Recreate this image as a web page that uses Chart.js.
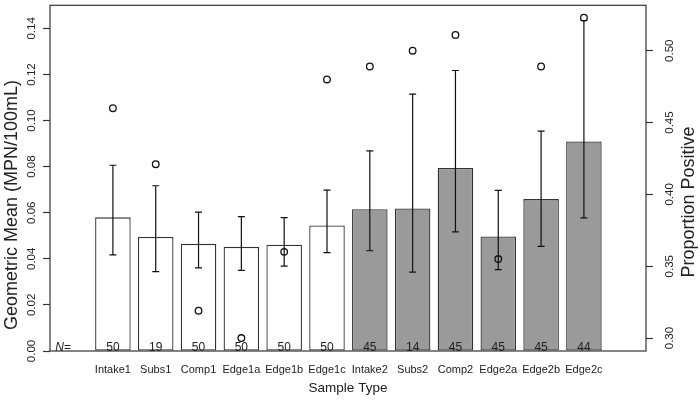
<!DOCTYPE html>
<html>
<head>
<meta charset="utf-8">
<script src="https://cdn.jsdelivr.net/npm/chart.js@4.4.1/dist/chart.umd.min.js"></script>
<style>
  html, body { margin: 0; padding: 0; background: #fff; }
</style>
</head>
<body>
<canvas id="chart" width="700" height="404"></canvas>
<script>
// Data
const categories = ['Intake1', 'Subs1', 'Comp1', 'Edge1a', 'Edge1b', 'Edge1c',
                    'Intake2', 'Subs2', 'Comp2', 'Edge2a', 'Edge2b', 'Edge2c'];
const phase = [1, 1, 1, 1, 1, 1, 2, 2, 2, 2, 2, 2];
const geoMean = [0.0580, 0.0495, 0.0465, 0.0452, 0.0461, 0.0545,
                 0.0615, 0.0618, 0.0794, 0.0497, 0.0659, 0.0909];
const errLow = [0.0417, 0.0344, 0.0361, 0.0350, 0.0368, 0.0427,
                0.0435, 0.0342, 0.0517, 0.0353, 0.0454, 0.0578];
const errHigh = [0.0806, 0.0717, 0.0603, 0.0583, 0.0579, 0.0698,
                 0.0868, 0.1115, 0.1217, 0.0697, 0.0954, 0.1434];
const propPositive = [0.460, 0.421, 0.319, 0.300, 0.360, 0.480,
                      0.489, 0.500, 0.511, 0.355, 0.489, 0.523];
const sampleN = [50, 19, 50, 50, 50, 50, 45, 14, 45, 45, 45, 44];
const leftTicks = [0.00, 0.02, 0.04, 0.06, 0.08, 0.10, 0.12, 0.14];
const rightTicks = [0.30, 0.35, 0.40, 0.45, 0.50];

const FONT = "'Liberation Sans', Arial, sans-serif";
const INK = '#222';

const xs = categories.map((c, i) => i + 1);

// error bars, N= labels, box and side titles
const extras = {
  id: 'extras',
  afterDatasetDraw(chart, args) {
    if (args.index !== 0) return;
    const ctx = chart.ctx, x = chart.scales.x, y = chart.scales.y;
    ctx.save();
    ctx.strokeStyle = '#111';
    ctx.lineWidth = 1.2;
    xs.forEach((v, i) => {
      const px = x.getPixelForValue(v);
      const lo = y.getPixelForValue(errLow[i]);
      const hi = y.getPixelForValue(errHigh[i]);
      ctx.beginPath();
      ctx.moveTo(px, lo); ctx.lineTo(px, hi);
      ctx.moveTo(px - 3.5, lo); ctx.lineTo(px + 3.5, lo);
      ctx.moveTo(px - 3.5, hi); ctx.lineTo(px + 3.5, hi);
      ctx.stroke();
    });
    ctx.restore();
  },
  afterDraw(chart) {
    const ctx = chart.ctx, a = chart.chartArea, x = chart.scales.x;
    ctx.save();
    ctx.strokeStyle = '#333';
    ctx.lineWidth = 1.2;
    ctx.strokeRect(a.left, a.top, a.right - a.left, a.bottom - a.top);

    ctx.fillStyle = INK;
    ctx.font = '12px ' + FONT;
    ctx.textBaseline = 'alphabetic';
    ctx.textAlign = 'center';
    xs.forEach((v, i) => {
      ctx.fillText(String(sampleN[i]), x.getPixelForValue(v), a.bottom - 0.5);
    });
    ctx.textAlign = 'right';
    ctx.fillText('=', 71, a.bottom - 0.5);
    const eqW = ctx.measureText('=').width;
    ctx.font = 'italic 12px ' + FONT;
    ctx.fillText('N', 71 - eqW, a.bottom - 0.5);

    ctx.font = '18px ' + FONT;
    ctx.textAlign = 'center';
    ctx.textBaseline = 'middle';
    ctx.save();
    ctx.translate(12, 205);
    ctx.rotate(-Math.PI / 2);
    ctx.fillText('Geometric Mean (MPN/100mL)', 0, 0);
    ctx.restore();
    ctx.save();
    ctx.translate(689, 202);
    ctx.rotate(-Math.PI / 2);
    ctx.fillText('Proportion Positive', 0, 0);
    ctx.restore();
    ctx.restore();
  }
};

const noPad = s => { s.paddingTop = 0; s.paddingBottom = 0; s.paddingLeft = 0; s.paddingRight = 0; };

const sideAxis = (ticks, width, pad) => ({
  grid: { drawOnChartArea: false, tickLength: 7, tickColor: '#333', tickWidth: 1.2 },
  border: { display: false },
  afterBuildTicks: s => { s.ticks = ticks.map(v => ({ value: v })); },
  afterFit: s => { s.width = width; noPad(s); },
  ticks: {
    minRotation: 90, maxRotation: 90, crossAlign: 'center', padding: pad,
    color: INK, font: { family: FONT, size: 11.5 },
    callback: v => v.toFixed(2)
  }
});

new Chart(document.getElementById('chart'), {
  type: 'bar',
  data: {
    datasets: [
      {
        type: 'bar',
        data: xs.map((v, i) => ({ x: v, y: geoMean[i] })),
        yAxisID: 'y',
        backgroundColor: phase.map(p => p === 1 ? '#ffffff' : '#9a9a9a'),
        borderColor: '#333',
        borderWidth: 1.3,
        borderSkipped: false,
        barPercentage: 1,
        categoryPercentage: 0.83,
        order: 2
      },
      {
        type: 'scatter',
        data: xs.map((v, i) => ({ x: v, y: propPositive[i] })),
        yAxisID: 'y2',
        showLine: false,
        pointRadius: 3.3,
        pointBorderWidth: 1.3,
        borderColor: '#111',
        backgroundColor: 'rgba(0,0,0,0)',
        order: 1
      }
    ]
  },
  options: {
    responsive: false,
    animation: false,
    devicePixelRatio: 1,
    layout: { padding: { top: 3, left: 0, right: 0, bottom: 0 } },
    plugins: { legend: { display: false }, tooltip: { enabled: false } },
    scales: {
      x: {
        type: 'linear',
        min: 0.111,
        max: 12.87,
        grid: { display: false, drawTicks: false },
        border: { display: false },
        afterBuildTicks: s => { s.ticks = xs.map(v => ({ value: v })); },
        afterFit: s => { s.height = 53; noPad(s); },
        ticks: {
          autoSkip: false, maxRotation: 0, padding: 12,
          color: INK, font: { family: FONT, size: 11 },
          callback: v => categories[v - 1]
        },
        title: {
          display: true, text: 'Sample Type', color: INK,
          font: { family: FONT, size: 13.5 }, padding: { top: 0, bottom: 8 }
        }
      },
      y: Object.assign({ position: 'left', min: 0, max: 0.15 }, sideAxis(leftTicks, 50, 0)),
      y2: Object.assign({ position: 'right', min: 0.291, max: 0.5316 }, sideAxis(rightTicks, 54, 6))
    }
  },
  plugins: [extras]
});
</script>
</body>
</html>
